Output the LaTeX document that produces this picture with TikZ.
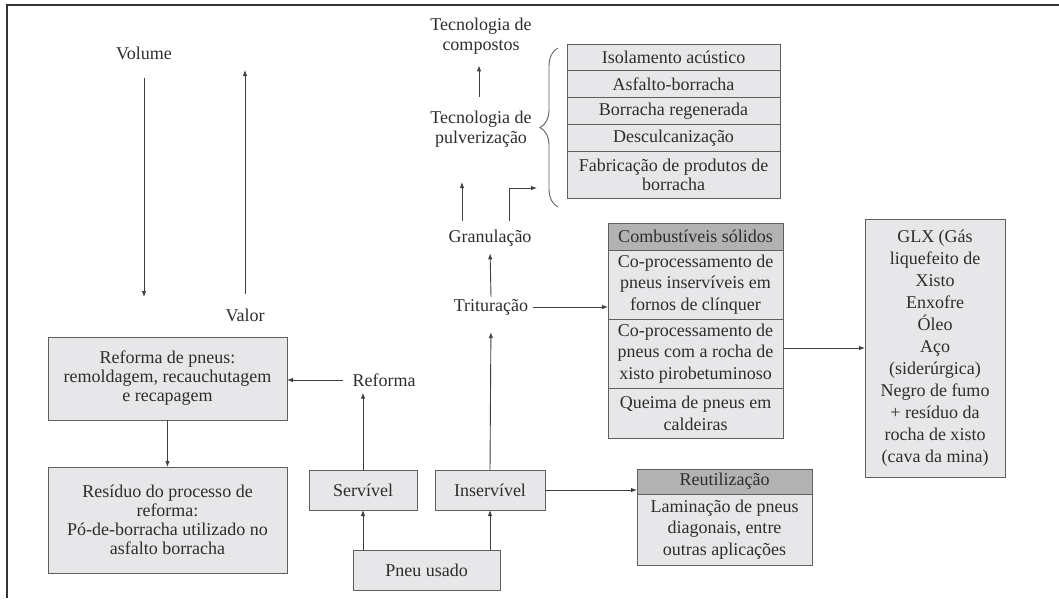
\documentclass[tikz,border=0pt]{standalone}
\usepackage{fontspec}
\setmainfont{Liberation Serif}
\usetikzlibrary{arrows.meta, positioning, decorations.pathreplacing}

\definecolor{boxfill}{RGB}{231,231,233}
\definecolor{headfill}{RGB}{178,178,178}
\definecolor{boxline}{RGB}{95,95,95}
\definecolor{txt}{RGB}{45,45,45}

\begin{document}
\begin{tikzpicture}[
  x=1pt, y=-1pt,
  box/.style={draw=boxline, line width=1pt, fill=boxfill, align=center, inner sep=0pt, outer sep=0pt, text=txt, font=\fontsize{18}{19}\selectfont},
  row/.style={box, minimum width=213pt, minimum height=26.75pt},
  comb/.style={box, minimum width=175pt, font=\fontsize{18}{21.7}\selectfont},
  head/.style={comb, fill=headfill},
  lbl/.style={align=center, inner sep=2pt, text=txt, font=\fontsize{18}{20}\selectfont},
  arr/.style={-{Latex[length=6pt, width=4.5pt]}, draw=black!75, line width=0.9pt}
]
\useasboundingbox (0,0) rectangle (1059,603);
\draw[line width=2pt, black!80] (7,598) -- (7,5) -- (1059,5);

% left column
\node[lbl] (volume) at (144,53) {Volume};
\node[lbl] (valor) at (245,315) {Valor};
\coordinate (volend) at (144,297);
\coordinate (valend) at (245,70);
\node[box, minimum width=239pt, minimum height=83pt] (reforma) at (167.5,378.5) {Reforma de pneus:\\remoldagem, recauchutagem\\e recapagem};
\node[box, minimum width=239pt, minimum height=106pt] (residuo) at (167.5,520) {Resíduo do processo de\\reforma:\\Pó-de-borracha utilizado no\\asfalto borracha};

% tyre states
\node[lbl] (reformalbl) at (384,380) {Reforma};
\node[box, minimum width=108pt, minimum height=40pt] (servivel) at (363,490) {Servível};
\node[box, minimum width=110pt, minimum height=40pt] (inservivel) at (490,490) {Inservível};
\node[box, minimum width=147pt, minimum height=40pt] (pneu) at (426.5,570) {Pneu usado};

% processing chain
\node[lbl] (trituracao) at (491,307) {Trituração};
\node[lbl] (granulacao) at (490,238) {Granulação};
\node[lbl] (pulv) at (481,129) {Tecnologia de\\pulverização};
\node[lbl] (compostos) at (481,36) {Tecnologia de\\compostos};
\coordinate (pulvin) at (462,182);
\coordinate (bracein) at (537,188);

% applications
\node[row] (iso) at (673.5,57.5) {Isolamento acústico};
\node[row, below=0pt of iso] (asf) {Asfalto-borracha};
\node[row, below=0pt of asf] (bor) {Borracha regenerada};
\node[row, below=0pt of bor] (des) {Desculcanização};
\node[row, minimum height=47pt, below=0pt of des] (fab) {Fabricação de produtos de\\borracha};
\draw[boxline, line width=0.9pt, decorate, decoration={brace, amplitude=18pt}] (558,207) -- (558,48);

\node[head, minimum height=27pt] (combh) at (695.5,236.5) {Combustíveis sólidos};
\node[comb, minimum height=69pt, below=0pt of combh] (c1) {Co-processamento de\\pneus inservíveis em\\fornos de clínquer};
\node[comb, minimum height=69pt, below=0pt of c1] (c2) {Co-processamento de\\pneus com a rocha de\\xisto pirobetuminoso};
\node[comb, minimum height=50pt, below=0pt of c2] (c3) {Queima de pneus em\\caldeiras};

\node[box, minimum width=140pt, minimum height=258pt, font=\fontsize{18}{22}\selectfont] (glx) at (935,348) {GLX (Gás\\liquefeito de\\Xisto\\Enxofre\\Óleo\\Aço\\(siderúrgica)\\Negro de fumo\\+ resíduo da\\rocha de xisto\\(cava da mina)};

\node[head, minimum height=25pt] (reuth) at (724.5,481.5) {Reutilização};
\node[comb, minimum height=71pt, below=0pt of reuth] (reutb) {Laminação de pneus\\diagonais, entre\\outras aplicações};

% connectors
\draw[arr, shorten <=16pt] (volume.south) -- (volend);
\draw[arr, shorten <=12pt] (valor.north) -- (valend);
\draw[arr, shorten <=7pt] (reformalbl.west) -- (reformalbl.west -| reforma.east);
\draw[arr] (reforma.south) -- (residuo.north);
\draw[arr, shorten >=4pt] (servivel.north) -- (servivel.north |- reformalbl.south);
\draw[arr] (pneu.north -| servivel.south) -- (servivel.south);
\draw[arr] (pneu.north -| inservivel.south) -- (inservivel.south);
\draw[arr, shorten >=15pt] (inservivel.north) -- (trituracao.south);
\draw[arr] (inservivel.east) -- (inservivel.east -| reuth.west);
\draw[arr, shorten <=3pt] (trituracao.east) -- (trituracao.east -| c1.west);
\draw[arr, shorten >=5pt] (trituracao.north) -- (granulacao.south);
\draw[arr, shorten <=7pt] (granulacao.north -| pulvin) -- (pulvin);
\draw[arr, shorten <=7pt] ([xshift=19pt]granulacao.north) |- (bracein);
\draw[arr, shorten <=12pt, shorten >=9pt] ([xshift=-2pt]pulv.north) -- ([xshift=-2pt]compostos.south);
\draw[arr] (glx.west -| c2.east) -- (glx.west);
\end{tikzpicture}
\end{document}
